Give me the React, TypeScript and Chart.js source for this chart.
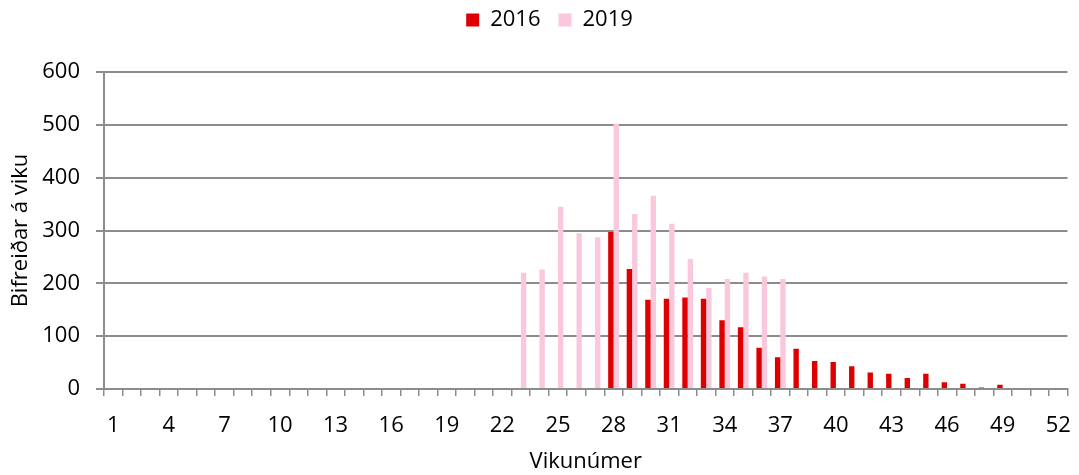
import React, { useEffect, useRef } from "react";
import { Chart, registerables } from "chart.js";

Chart.register(...registerables);

const weeks: string[] = Array.from({ length: 52 }, (_, i) => String(i + 1));
const series2016: number[] = [
  0, 0, 0, 0, 0, 0, 0, 0, 0, 0, 0, 0, 0, 0, 0, 0, 0, 0, 0, 0, 0, 0, 0, 0, 0, 0, 0,
  297, 227, 169, 171, 173, 171, 130, 117, 78, 60, 76, 53, 51, 43, 31, 29, 21, 29, 13, 10, 3, 8,
  0, 0, 0,
];
const series2019: number[] = [
  0, 0, 0, 0, 0, 0, 0, 0, 0, 0, 0, 0, 0, 0, 0, 0, 0, 0, 0, 0, 0, 0,
  220, 226, 345, 295, 287, 502, 331, 366, 313, 246, 191, 208, 220, 213, 208,
  0, 0, 0, 0, 0, 0, 0, 0, 0, 0, 0, 0, 0, 0, 0,
];
const seriesNames: string[] = ["2016", "2019"];
const yTicks: number[] = [0, 100, 200, 300, 400, 500, 600];
const yTitle = "Bifreiðar á viku";
const xTitle = "Vikunúmer";

const legendSpacer = {
  id: "legendSpacer",
  beforeUpdate(chart: any) {
    const lg = chart.legend;
    if (lg && !lg._patched) {
      const orig = lg.fit;
      lg.fit = function () {
        orig.call(this);
        this.height += 31;
      };
      lg._patched = true;
    }
  },
  afterLayout(chart: any) {
    const lg = chart.legend;
    if (lg) {
      lg.left += 10;
      lg.right += 10;
    }
  },
};

export default function App() {
  const ref = useRef<HTMLCanvasElement>(null);
  useEffect(() => {
    document.body.style.margin = "0";
    const font = "'Open Sans', 'Liberation Sans', sans-serif";
    const chart = new Chart(ref.current!, {
      type: "bar",
      data: {
        labels: weeks,
        datasets: [
          {
            label: seriesNames[0],
            data: series2016,
            backgroundColor: "rgb(222,0,0)",
            barPercentage: 1,
            categoryPercentage: 0.58,
          },
          {
            label: seriesNames[1],
            data: series2019,
            backgroundColor: "rgb(250,200,221)",
            barPercentage: 1,
            categoryPercentage: 0.58,
          },
        ],
      },
      plugins: [legendSpacer],
      options: {
        animation: false,
        responsive: false,
        layout: { padding: { top: -9, right: 0, left: 0, bottom: 0 } },
        plugins: {
          tooltip: { enabled: false },
          legend: {
            position: "top",
            labels: {
              boxWidth: 13,
              boxHeight: 13,
              padding: 18,
              color: "#000",
              font: { family: font, size: 22 },
            },
          },
        },
        scales: {
          x: {
            offset: true,
            grid: {
              offset: true,
              drawOnChartArea: false,
              drawTicks: true,
              tickLength: 7,
              color: "#8c8c8c",
              lineWidth: 1.5,
            },
            border: { color: "#8c8c8c", width: 2 },
            ticks: {
              autoSkip: false,
              maxRotation: 0,
              padding: 17,
              color: "#000",
              font: { family: font, size: 22 },
              callback: (_v: any, i: number) => (i % 3 === 0 ? weeks[i] : ""),
            },
            title: {
              display: true,
              text: xTitle,
              color: "#000",
              font: { family: font, size: 22 },
              padding: { top: 4, bottom: 0 },
            },
            afterFit: (s: any) => {
              s.height = 86;
              s.paddingLeft = 0;
              s.paddingRight = 11.5;
            },
          },
          y: {
            min: 0,
            max: 600,
            afterBuildTicks: (s: any) => {
              s.ticks = yTicks.map((v) => ({ value: v }));
            },
            grid: {
              color: "#8c8c8c",
              lineWidth: 2,
              tickLength: 8,
            },
            border: { color: "#8c8c8c", width: 2 },
            ticks: {
              padding: 16,
              color: "#000",
              font: { family: font, size: 22 },
            },
            title: {
              display: true,
              text: yTitle,
              color: "#000",
              font: { family: font, size: 22 },
              padding: { top: 8, bottom: 0 },
            },
            afterFit: (s: any) => {
              s.width = 104;
            },
          },
        },
      },
    });
    return () => chart.destroy();
  }, []);
  return <canvas ref={ref} width={1079} height={475} style={{ display: "block" }} />;
}
